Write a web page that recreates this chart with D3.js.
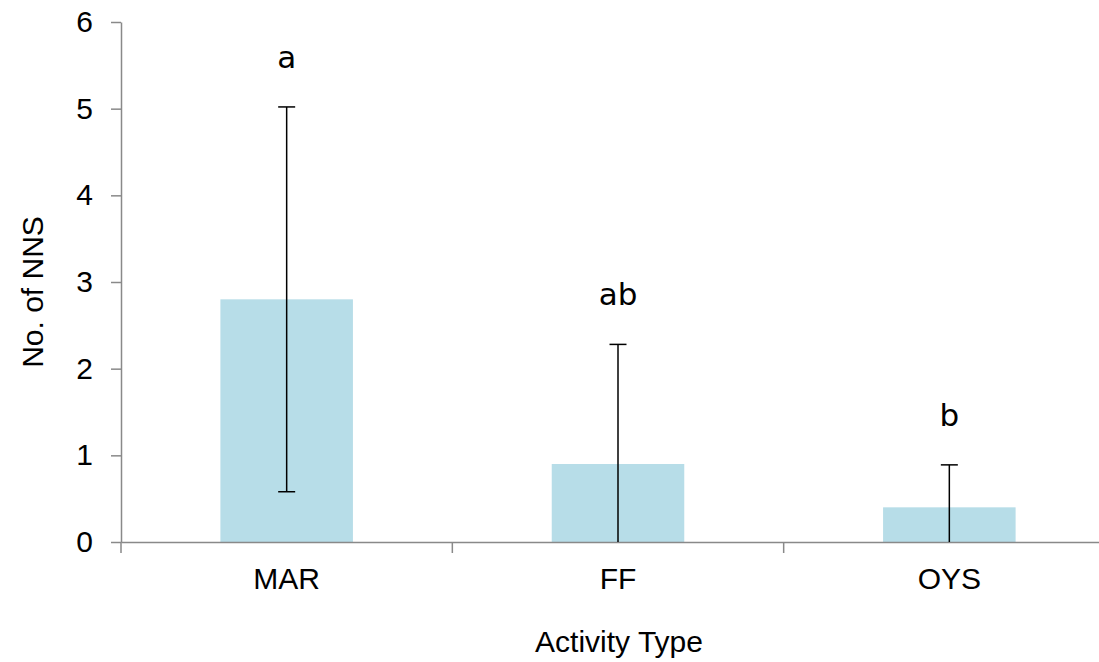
<!DOCTYPE html>
<html>
<head>
<meta charset="utf-8">
<script src="https://cdn.jsdelivr.net/npm/d3@7"></script>
<style>
  body { margin: 0; background: #fff; }
  svg { display: block; }
</style>
</head>
<body>
<script>
const categories = ['MAR', 'FF', 'OYS']
const means = [2.8, 0.9, 0.4]
const errLow = [0.58, 0, 0]
const errHigh = [5.02, 2.28, 0.89]
const letters = ['a', 'ab', 'b']
const yTicks = [0, 1, 2, 3, 4, 5, 6]

const width = 1099
const height = 662
const margin = { top: 22, right: -16, bottom: 120, left: 121 }
const axisColor = '#898989'
const barColor = '#b7dde8'

const svg = d3.select('body')
  .append('svg')
  .attr('width', width)
  .attr('height', height)

const x = d3.scaleBand()
  .domain(categories)
  .range([margin.left, width - margin.right])
  .paddingInner(0)
  .paddingOuter(0)

const y = d3.scaleLinear()
  .domain([0, 6])
  .range([height - margin.bottom, margin.top])

const barW = x.bandwidth() * 0.4

// bars
svg.append('g')
  .selectAll('rect')
  .data(categories)
  .join('rect')
  .attr('x', (d) => x(d) + (x.bandwidth() - barW) / 2)
  .attr('y', (d, i) => y(means[i]))
  .attr('width', barW)
  .attr('height', (d, i) => y(0) - y(means[i]))
  .attr('fill', barColor)

// y axis
const yAxis = svg.append('g')
  .attr('transform', `translate(${margin.left},0)`)
  .call(d3.axisLeft(y).tickValues(yTicks).tickFormat(d3.format('d'))
    .tickSize(10).tickPadding(18).tickSizeOuter(0))
yAxis.select('.domain').attr('stroke', axisColor).attr('stroke-width', 1.5)
yAxis.selectAll('.tick line').attr('stroke', axisColor).attr('stroke-width', 1.5)
yAxis.selectAll('.tick text')
  .attr('fill', '#000')
  .style('font-family', 'Liberation Sans, Arial, sans-serif')
  .style('font-size', '30px')

// x axis
const xAxis = svg.append('g')
  .attr('transform', `translate(0,${y(0)})`)
  .call(d3.axisBottom(x).tickSize(0).tickPadding(26).tickSizeOuter(0))
xAxis.select('.domain').attr('stroke', axisColor).attr('stroke-width', 1.5)
xAxis.selectAll('.tick text')
  .attr('fill', '#000')
  .style('font-family', 'Liberation Sans, Arial, sans-serif')
  .style('font-size', '30px')

const bounds = categories.map((d) => x(d)).concat([x.range()[1]])
xAxis.selectAll('line.sep')
  .data(bounds)
  .join('line')
  .attr('class', 'sep')
  .attr('x1', (d) => d)
  .attr('x2', (d) => d)
  .attr('y1', 0)
  .attr('y2', 11)
  .attr('stroke', axisColor)
  .attr('stroke-width', 1.5)

// error bars
const cx = (d) => x(d) + x.bandwidth() / 2
const capW = 17
const eb = svg.append('g').attr('stroke', '#000').attr('stroke-width', 1.5)
eb.selectAll('line.v')
  .data(categories)
  .join('line')
  .attr('class', 'v')
  .attr('x1', cx)
  .attr('x2', cx)
  .attr('y1', (d, i) => y(errLow[i]))
  .attr('y2', (d, i) => y(errHigh[i]))
eb.selectAll('line.cap-hi')
  .data(categories)
  .join('line')
  .attr('class', 'cap-hi')
  .attr('x1', (d) => cx(d) - capW / 2)
  .attr('x2', (d) => cx(d) + capW / 2)
  .attr('y1', (d, i) => y(errHigh[i]))
  .attr('y2', (d, i) => y(errHigh[i]))
eb.selectAll('line.cap-lo')
  .data(categories.filter((d, i) => errLow[i] > 0))
  .join('line')
  .attr('class', 'cap-lo')
  .attr('x1', (d) => cx(d) - capW / 2)
  .attr('x2', (d) => cx(d) + capW / 2)
  .attr('y1', (d) => y(errLow[categories.indexOf(d)]))
  .attr('y2', (d) => y(errLow[categories.indexOf(d)]))

// significance letters
svg.append('g')
  .selectAll('text')
  .data(categories)
  .join('text')
  .attr('x', cx)
  .attr('y', (d, i) => y(errHigh[i] + 0.45))
  .attr('text-anchor', 'middle')
  .style('font-family', 'DejaVu Sans, Verdana, sans-serif')
  .style('font-size', '31px')
  .attr('fill', '#000')
  .text((d, i) => letters[i])

// axis titles
svg.append('text')
  .attr('transform', 'rotate(-90)')
  .attr('x', -292)
  .attr('y', 43)
  .attr('text-anchor', 'middle')
  .style('font-family', 'Liberation Sans, Arial, sans-serif')
  .style('font-size', '30px')
  .text('No. of NNS')

svg.append('text')
  .attr('x', 619)
  .attr('y', 652)
  .attr('text-anchor', 'middle')
  .style('font-family', 'Liberation Sans, Arial, sans-serif')
  .style('font-size', '30px')
  .text('Activity Type')
</script>
</body>
</html>
